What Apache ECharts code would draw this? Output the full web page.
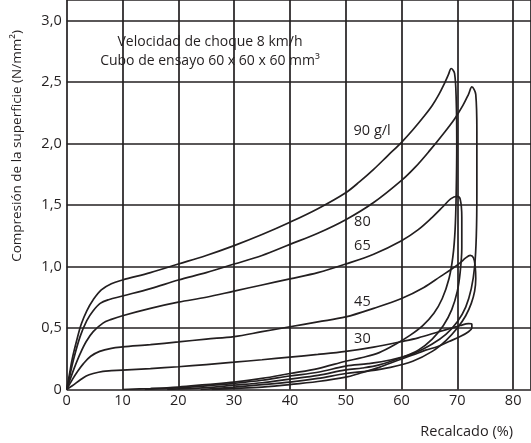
<!DOCTYPE html>
<html><head><meta charset="utf-8">
<script src="https://cdn.jsdelivr.net/npm/echarts@6/dist/echarts.min.js"></script>
<style>html,body{margin:0;padding:0;background:#fff}#c{width:531px;height:443px}</style>
</head><body><div id="c"></div><script>
// ---- data ----
const xTickValues = [0,10,20,30,40,50,60,70,80];
const yTickValues = [0,0.5,1.0,1.5,2.0,2.5,3.0];
const densities = ['90 g/l','80','65','45','30'];

const load90 = [[0,0],[0.4,0.1],[1,0.25],[1.8,0.4],[2.6,0.53],[3.6,0.64],[4.75,0.73],[6.2,0.81],[8,0.86],[10,0.89],[15,0.95],[20,1.02],[25,1.09],[30,1.17],[35,1.26],[40,1.36],[45,1.47],[50,1.6],[52.5,1.69],[55,1.79],[57.5,1.9],[60,2.01],[62,2.11],[64,2.22],[65.5,2.31],[66.7,2.4],[67.7,2.49],[68.4,2.56],[68.9,2.61]];
const unload90 = [[69.5,2.57],[69.8,2.35],[69.9,2.0],[69.8,1.6],[69.6,1.3],[69.2,1.08],[68.5,0.9],[67.3,0.74],[65.8,0.62],[63.8,0.52],[61.5,0.44],[59,0.37],[56,0.3],[53,0.26],[50,0.23],[45,0.17],[40,0.13],[35,0.09],[30,0.06],[25,0.04],[20,0.02],[15,0.008],[10,0]];

const load80 = [[0,0],[0.5,0.1],[1.2,0.24],[2.4,0.43],[3.6,0.56],[4.75,0.64],[6,0.7],[7.5,0.73],[10,0.76],[15,0.82],[20,0.89],[25,0.95],[30,1.02],[35,1.09],[40,1.18],[45,1.27],[50,1.38],[55,1.52],[60,1.7],[62.5,1.81],[65,1.94],[67.5,2.08],[69.5,2.2],[71,2.31],[72,2.4],[72.6,2.46]];
const unload80 = [[73.3,2.4],[73.5,2.1],[73.5,1.6],[73.4,1.25],[73.1,1.0],[72.5,0.82],[71.5,0.67],[70,0.55],[68,0.45],[65.5,0.37],[62,0.29],[58,0.24],[54,0.21],[50,0.19],[45,0.14],[40,0.11],[35,0.075],[30,0.05],[25,0.03],[20,0.012],[14,0]];

const load65 = [[0,0],[0.6,0.08],[1.4,0.18],[2.4,0.29],[3.5,0.39],[4.75,0.47],[6.5,0.54],[8,0.57],[10,0.6],[15,0.66],[20,0.71],[25,0.75],[30,0.8],[35,0.85],[40,0.9],[45,0.95],[50,1.02],[55,1.1],[60,1.21],[63,1.3],[65.5,1.4],[67.5,1.49],[68.8,1.55],[69.9,1.57]];
const unload65 = [[70.5,1.55],[70.8,1.4],[70.8,1.15],[70.5,0.95],[70,0.8],[69,0.65],[67.5,0.52],[65.5,0.41],[63,0.32],[60,0.26],[56,0.2],[53,0.175],[50,0.16],[45,0.115],[40,0.085],[35,0.055],[30,0.035],[25,0.015],[18,0]];

const load45 = [[0,0],[1,0.08],[2,0.15],[3,0.21],[4.3,0.27],[5.9,0.31],[8,0.335],[10,0.346],[15,0.365],[20,0.387],[25,0.41],[30,0.43],[35,0.47],[40,0.51],[45,0.55],[50,0.59],[55,0.66],[60,0.74],[64,0.83],[67,0.92],[69,0.98],[70.5,1.03],[71.5,1.07],[72.3,1.09]];
const unload45 = [[72.9,1.07],[73.2,1.0],[73.3,0.9],[73.1,0.8],[72.5,0.7],[71.5,0.6],[70,0.5],[68,0.4],[65.5,0.31],[62,0.23],[58,0.18],[54,0.15],[50,0.13],[45,0.09],[40,0.06],[35,0.04],[30,0.02],[24,0]];

const load30 = [[0,0],[1,0.03],[2.4,0.077],[3.5,0.11],[4.75,0.13],[6.5,0.148],[8,0.153],[10,0.158],[15,0.17],[20,0.185],[25,0.203],[30,0.222],[35,0.242],[40,0.263],[45,0.285],[50,0.31],[55,0.345],[60,0.39],[63,0.42],[66.7,0.47],[69,0.5],[70.5,0.52],[72,0.535]];
const unload30 = [[72.6,0.53],[72.6,0.5],[72,0.47],[70.5,0.43],[68.5,0.39],[66.5,0.35],[64.3,0.32],[62,0.28],[59.5,0.24],[56,0.18],[52.4,0.13],[50,0.1],[45,0.065],[40,0.04],[35,0.02],[30,0.008],[26,0]];

const labelX = [51.4,51.5,51.5,51.5,51.5];
const labelY = [2.10,1.36,1.17,0.71,0.41];

const titleLines = ['Velocidad de choque 8 km/h','Cubo de ensayo 60 x 60 x 60 mm³'];
const xName = 'Recalcado (%)';
const yName = 'Compresión de la superficie (N/mm²)';

// ---- chart ----
const loops = [load90.concat(unload90), load80.concat(unload80), load65.concat(unload65), load45.concat(unload45), load30.concat(unload30)];
const FONT = '"Open Sans", sans-serif';
const INK = '#231f20';
const chart = echarts.init(document.getElementById('c'), null, {renderer:'canvas'});
const fmt = v => v === 0 ? '0' : v.toFixed(1).replace('.', ',');

const series = loops.map((d, i) => ({
  type: 'line', name: densities[i], data: d, smooth: 0.35, showSymbol: false, symbol: 'none',
  lineStyle: {color: INK, width: 1.7}, z: 3, silent: true
}));
series.push({
  type: 'scatter', symbolSize: 0, silent: true, z: 4,
  itemStyle: {opacity: 1, color: INK},
  data: densities.map((t, i) => [labelX[i], labelY[i], t]),
  label: {show: true, position: 'right', distance: 0, formatter: p => p.value[2],
    color: INK, opacity: 1, fontFamily: FONT, fontSize: 14.5}
});

chart.setOption({
  animation: false,
  backgroundColor: '#fff',
  grid: {left: 66.7, right: -2, top: -2, bottom: 53.5, containLabel: false},
  xAxis: {
    type: 'value', min: 0, max: 83.2, interval: 10,
    axisLine: {show: false}, axisTick: {show: false},
    splitLine: {show: true, lineStyle: {color: INK, width: 1.7}},
    axisLabel: {color: INK, fontFamily: FONT, fontSize: 14.5, margin: 4, showMaxLabel: false,
      formatter: v => xTickValues.includes(v) ? String(v) : ''}
  },
  yAxis: {
    type: 'value', min: 0, max: 3.167, interval: 0.5,
    axisLine: {show: false}, axisTick: {show: false},
    splitLine: {show: true, lineStyle: {color: INK, width: 1.7}},
    axisLabel: {color: INK, fontFamily: FONT, fontSize: 14.5, margin: 5, showMaxLabel: false,
      formatter: v => yTickValues.some(t => Math.abs(t - v) < 1e-9) ? fmt(v) : ''}
  },
  graphic: [
    {type: 'text', x: 210, y: 42, z: 10, style: {text: titleLines[0], align: 'center', verticalAlign: 'middle', fill: INK, font: '14px ' + FONT}},
    {type: 'text', x: 210, y: 61, z: 10, style: {text: titleLines[1], align: 'center', verticalAlign: 'middle', fill: INK, font: '14px ' + FONT}},
    {type: 'text', x: 513, y: 432, z: 10, style: {text: xName, align: 'right', verticalAlign: 'middle', fill: INK, font: '14.5px ' + FONT}},
    {type: 'text', x: 17, y: 146, z: 10, rotation: Math.PI / 2, style: {text: yName, align: 'center', verticalAlign: 'middle', fill: INK, font: '13.5px ' + FONT}}
  ],
  series: series
});
</script></body></html>
